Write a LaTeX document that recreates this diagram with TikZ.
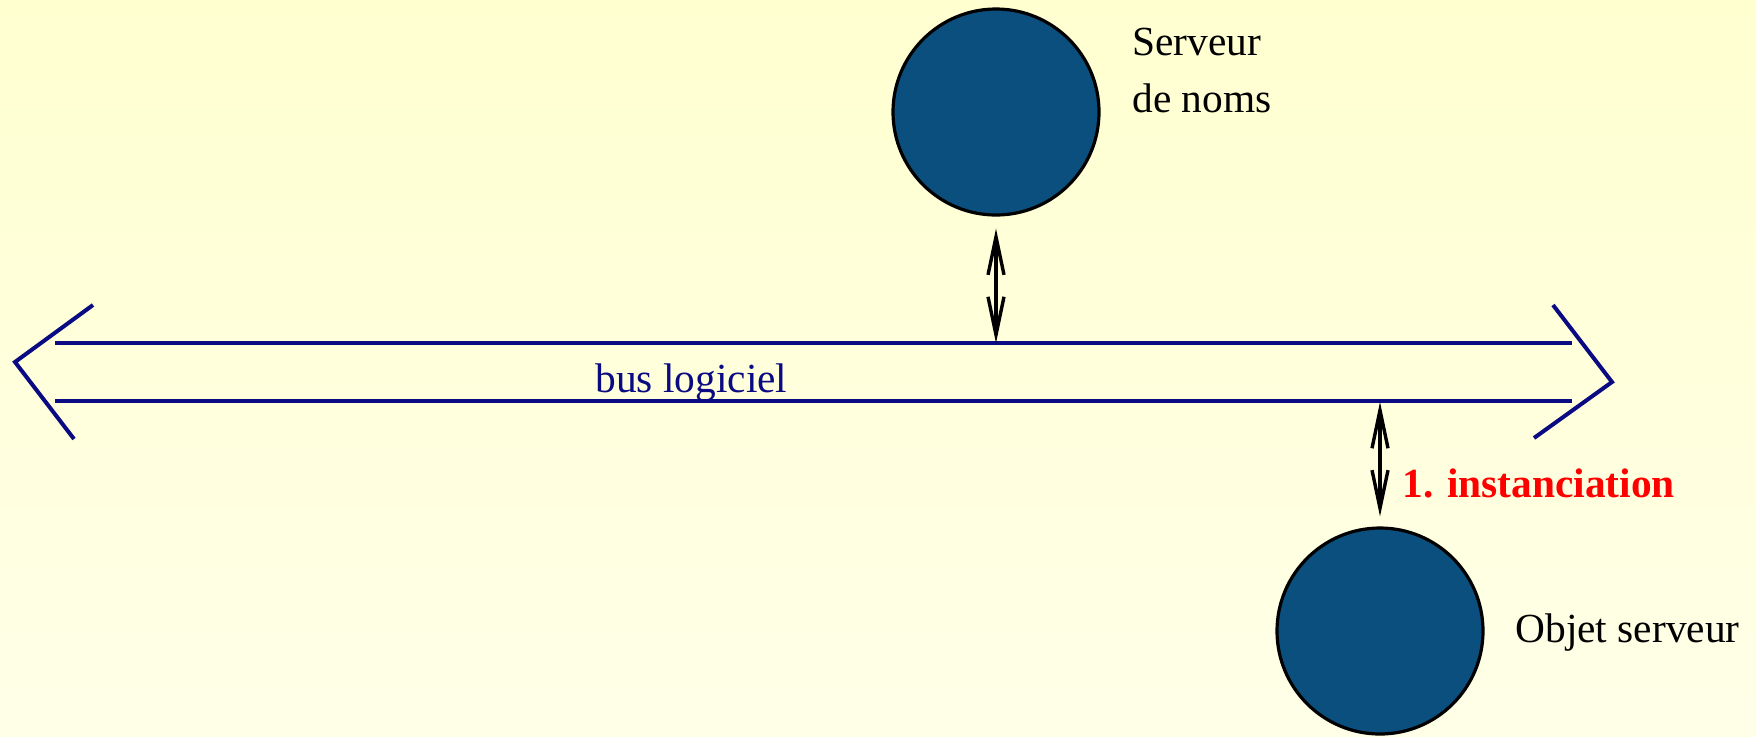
\documentclass[tikz,border=0pt]{standalone}
\usepackage{fontspec}
\setmainfont{Liberation Serif}
\usetikzlibrary{arrows.meta}

\definecolor{bgtop}{HTML}{FFFFD0}
\definecolor{bgbot}{HTML}{FFFFE8}
\definecolor{busblue}{HTML}{0A0A82}
\definecolor{discblue}{HTML}{0B4F7E}
\definecolor{labelred}{HTML}{FF0000}

\tikzset{
  disc/.style={circle, draw=black, line width=1.6pt, fill=discblue,
               minimum size=103pt, inner sep=0pt},
  busline/.style={draw=busblue, line width=2pt, line join=miter},
  duplex/.style={draw=black, line width=1.7pt,
                 {Straight Barb[length=19pt,width=8pt]}-{Straight Barb[length=19pt,width=8pt]}},
  lbl/.style={inner sep=0pt, font=\fontsize{20.7}{28.5}\selectfont, align=left},
}

\begin{document}
\begin{tikzpicture}[x=0.5pt,y=-0.5pt]
  % background with a soft vertical gradient
  \shade[top color=bgtop, bottom color=bgbot] (0,0) rectangle (1756,736);
  \useasboundingbox (0,0) rectangle (1756,736);

  % the logical bus, drawn as a double-headed broad arrow
  \draw[busline] (55,343) -- (1572,343);
  \draw[busline] (55,401) -- (1572,401);
  \draw[busline] (93,305) -- (15,362) -- (74,439);
  \draw[busline] (1553,305) -- (1612,382) -- (1534,438);
  \node[lbl, anchor=base west, text=busblue] (buslbl) at (595,392) {bus logiciel};

  % attachment points on the bus
  \coordinate (busTop) at (996,343);
  \coordinate (busBot) at (1380,402);

  % name server
  \node[disc] (ns) at (996,112) {};
  \node[lbl, anchor=base west] (nslbl) at (1132,112) {Serveur\\de noms};

  % server object
  \node[disc] (obj) at (1380,631) {};
  \node[lbl, anchor=base west] (objlbl) at (1515,642) {Objet serveur};

  % connections to the bus
  \draw[duplex, shorten <=6pt] (ns) -- (busTop);
  \draw[duplex, shorten >=5pt] (busBot) -- (obj);
  \node[lbl, anchor=base west, text=labelred, font=\fontsize{20.7}{28.5}\selectfont\bfseries]
    (inst) at (1402,497) {1. instanciation};
\end{tikzpicture}
\end{document}
